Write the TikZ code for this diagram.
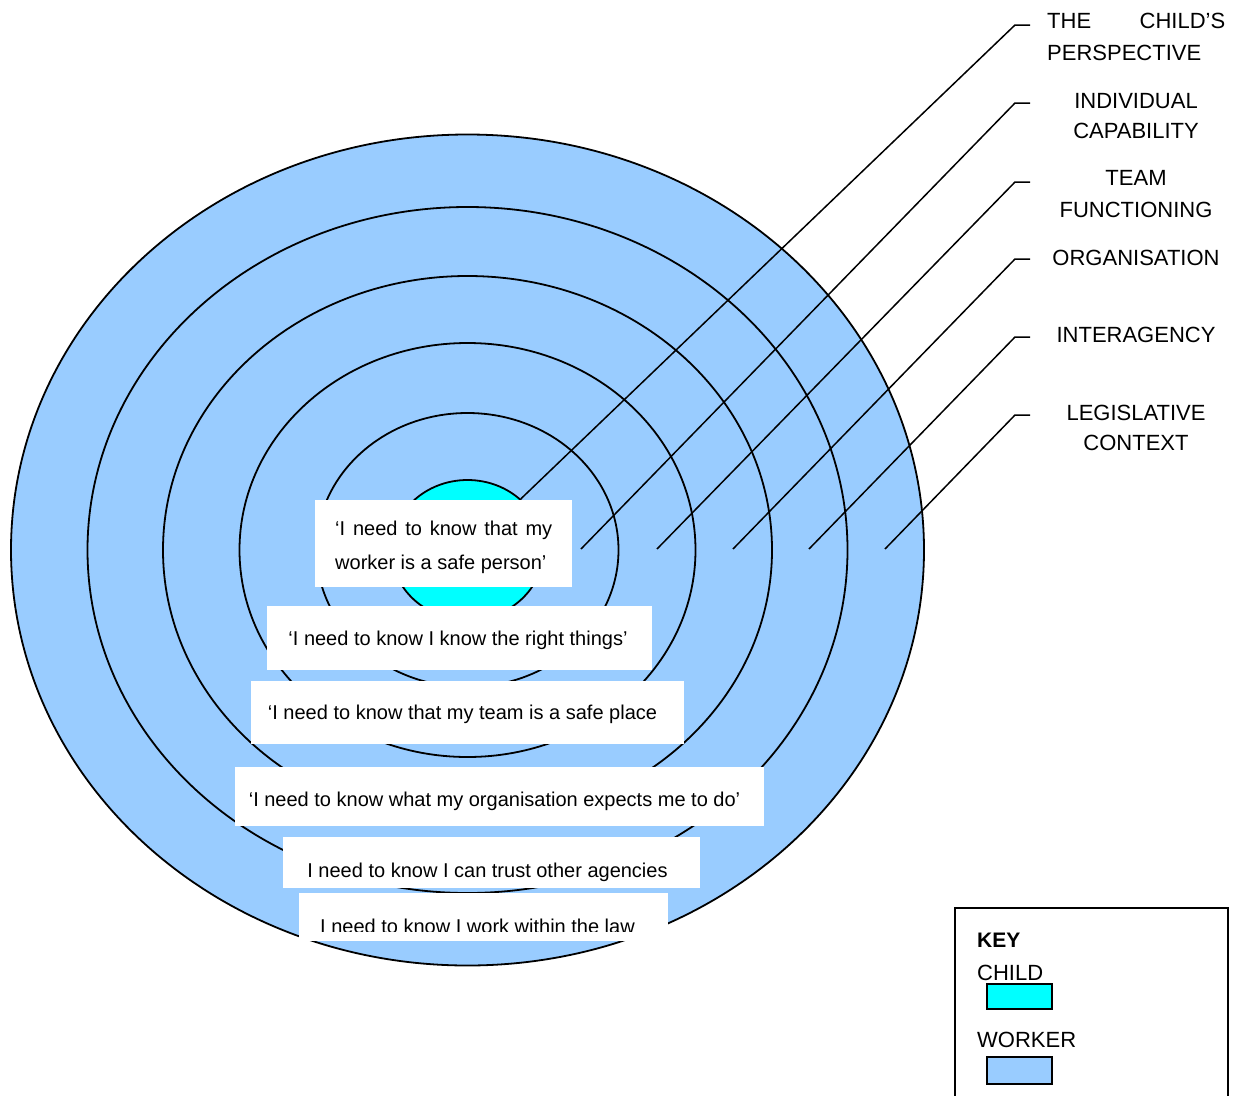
\documentclass[tikz,border=0pt]{standalone}
\usepackage{fontspec}
\setmainfont{Liberation Sans}
\usetikzlibrary{shapes.geometric}
\definecolor{workerblue}{HTML}{99CCFF}
\definecolor{childcyan}{HTML}{00FFFF}
\tikzset{
  ring/.style={ellipse, draw=black, line width=1.8pt, fill=workerblue, inner sep=0pt},
  childring/.style={ring, fill=childcyan},
  leader/.style={draw=black, line width=1.5pt},
  quotebox/.style={fill=white, draw=none},
  quotetext/.style={inner sep=0pt, font=\fontsize{20pt}{24pt}\selectfont, text=black},
  lab/.style={inner sep=0pt, font=\fontsize{22pt}{26pt}\selectfont, text=black},
  keylab/.style={inner sep=0pt, font=\fontsize{22pt}{26pt}\selectfont, text=black},
  keyswatch/.style={draw=black, line width=1.5pt},
}
\begin{document}
\begin{tikzpicture}[x=1pt,y=-1pt]
\clip (0,0) rectangle (1236,1095);
\fill[white] (0,0) rectangle (1236,1095);

% concentric rings
\node[ring, minimum width=913pt, minimum height=831pt] (r6) at (467.5,550) {};
\node[ring, minimum width=760pt, minimum height=686pt] (r5) at (467.5,550) {};
\node[ring, minimum width=609pt, minimum height=548pt] (r4) at (467.5,550) {};
\node[ring, minimum width=456pt, minimum height=414pt] (r3) at (467.5,550) {};
\node[ring, minimum width=302pt, minimum height=274pt] (r2) at (467.5,550) {};
\node[childring, minimum width=152pt, minimum height=140pt] (cyan) at (467.5,550) {};

% leader line coordinates
\coordinate (h1) at (1030,25);  \coordinate (k1) at (1015,25);
\coordinate (h2) at (1030,103); \coordinate (k2) at (1015,103); \coordinate (e2) at (581,549);
\coordinate (h3) at (1030,182); \coordinate (k3) at (1015,182); \coordinate (e3) at (657,549);
\coordinate (h4) at (1030,259); \coordinate (k4) at (1015,259); \coordinate (e4) at (733,549);
\coordinate (h5) at (1030,337); \coordinate (k5) at (1015,337); \coordinate (e5) at (809,549);
\coordinate (h6) at (1030,415); \coordinate (k6) at (1015,415); \coordinate (e6) at (885,549);

\draw[leader] (h1) -- (k1) -- (cyan);
\draw[leader] (h2) -- (k2) -- (e2);
\draw[leader] (h3) -- (k3) -- (e3);
\draw[leader] (h4) -- (k4) -- (e4);
\draw[leader] (h5) -- (k5) -- (e5);
\draw[leader] (h6) -- (k6) -- (e6);

% quote boxes
\fill[quotebox] (315,500) rectangle (572,587);
\node[quotetext, anchor=base west] (q1a) at (335,535) {\makebox[217pt][s]{‘I need to know that my}};
\node[quotetext, anchor=base west] (q1b) at (335,569) {worker is a safe person’};

\fill[quotebox] (267,606) rectangle (652,670);
\node[quotetext, anchor=base] (q2) at (458,645) {‘I need to know I know the right things’};

\fill[quotebox] (251,681) rectangle (684,744);
\node[quotetext, anchor=base] (q3) at (462.5,719) {‘I need to know that my team is a safe place};

\fill[quotebox] (235,767) rectangle (764,826);
\node[quotetext, anchor=base] (q4) at (494.5,806) {‘I need to know what my organisation expects me to do’};

\fill[quotebox] (283,837) rectangle (700,888);
\node[quotetext, anchor=base] (q5) at (487.5,877) {I need to know I can trust other agencies};

\fill[quotebox] (299,893) rectangle (668,941);
\begin{scope}
  \clip (299,893) rectangle (668,931);
  \node[quotetext, anchor=base] (q6) at (477.5,933) {I need to know I work within the law};
\end{scope}

% right-hand labels
\node[lab, anchor=base west] (l1a) at (1047,28) {\makebox[178pt][s]{THE CHILD’S}};
\node[lab, anchor=base west] (l1b) at (1047,60) {PERSPECTIVE};
\node[lab, anchor=base] (l2a) at (1136,108) {INDIVIDUAL};
\node[lab, anchor=base] (l2b) at (1136,138) {CAPABILITY};
\node[lab, anchor=base] (l3a) at (1136,185) {TEAM};
\node[lab, anchor=base] (l3b) at (1136,217) {FUNCTIONING};
\node[lab, anchor=base] (l4) at (1136,265) {ORGANISATION};
\node[lab, anchor=base] (l5) at (1136,342) {INTERAGENCY};
\node[lab, anchor=base] (l6a) at (1136,420) {LEGISLATIVE};
\node[lab, anchor=base] (l6b) at (1136,450) {CONTEXT};

% key
\draw[line width=1.8pt] (955,1110) -- (955,908) -- (1228,908) -- (1228,1110);
\node[keylab, anchor=base west, font=\fontsize{21pt}{25pt}\selectfont\bfseries] (key) at (977,947) {KEY};
\node[keylab, anchor=base west] (kchild) at (977,980) {CHILD};
\filldraw[keyswatch, fill=childcyan] (987,984) rectangle (1052,1009);
\node[keylab, anchor=base west] (kworker) at (977,1047) {WORKER};
\filldraw[keyswatch, fill=workerblue] (987,1057) rectangle (1052,1084);
\end{tikzpicture}
\end{document}
